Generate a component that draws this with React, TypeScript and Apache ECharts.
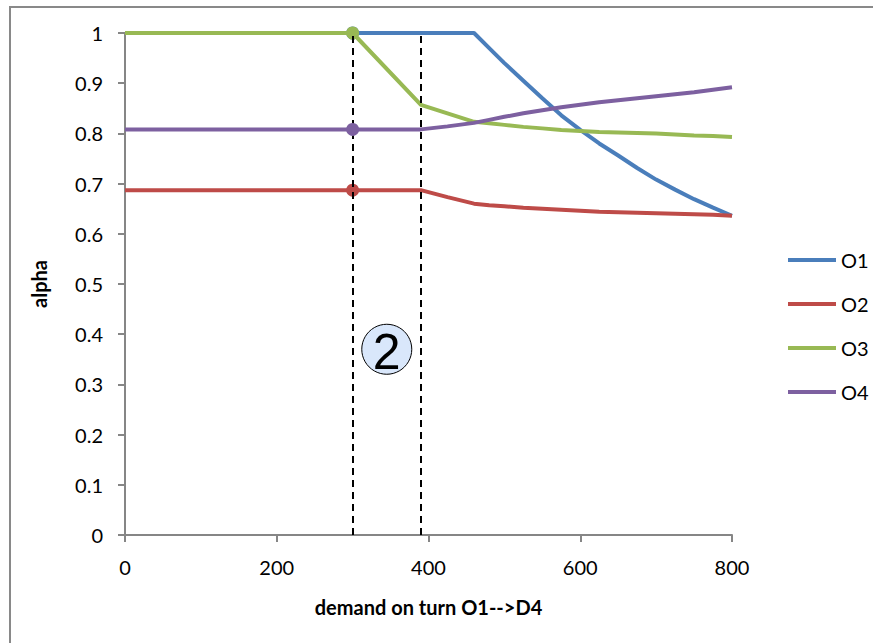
import React, { useEffect, useRef } from "react";
import * as echarts from "echarts";

const xValues = [0, 300, 390, 425, 460, 480, 500, 525, 550, 575, 600, 625, 650, 675, 700, 725, 750, 775, 800];
const o1 = [1, 1, 1, 1, 1, 0.97, 0.94, 0.905, 0.87, 0.836, 0.807, 0.78, 0.756, 0.731, 0.708, 0.688, 0.669, 0.652, 0.636];
const o2 = [0.687, 0.687, 0.687, 0.673, 0.66, 0.657, 0.655, 0.652, 0.65, 0.648, 0.646, 0.644, 0.643, 0.642, 0.641, 0.64, 0.639, 0.638, 0.636];
const o3 = [1, 1, 0.857, 0.84, 0.823, 0.82, 0.817, 0.813, 0.81, 0.807, 0.805, 0.803, 0.802, 0.801, 0.8, 0.798, 0.796, 0.795, 0.793];
const o4 = [0.808, 0.808, 0.808, 0.814, 0.821, 0.827, 0.833, 0.84, 0.846, 0.852, 0.857, 0.862, 0.866, 0.87, 0.874, 0.878, 0.882, 0.887, 0.892];
const seriesNames = ["O1", "O2", "O3", "O4"];
const seriesColors = ["#4a7ebb", "#be4b48", "#98b954", "#7d60a0"];
const markedX = 300;
const dashedX = [300, 390];
const regionLabel = "2";
const regionPos = [345, 0.37];

const FONT = "Lato, 'Liberation Sans', sans-serif";

export default function App() {
  const ref = useRef<HTMLDivElement>(null);
  useEffect(() => {
    if (!ref.current) return;
    const chart = echarts.init(ref.current, undefined, { renderer: "svg" });
    const all = [o1, o2, o3, o4];
    const series: any[] = all.map((vals, i) => ({
      name: seriesNames[i],
      type: "line",
      symbol: "none",
      lineStyle: { width: 4, color: seriesColors[i] },
      itemStyle: { color: seriesColors[i] },
      data: xValues.map((x, j) =>
        x === markedX
          ? { value: [x, vals[j]], symbol: "circle", symbolSize: 13 }
          : [x, vals[j]]
      ),
      z: 2 + i,
    }));
    series[0].markLine = {
      silent: true,
      symbol: "none",
      label: { show: false },
      lineStyle: { color: "#000", type: [7, 5], width: 2 },
      data: dashedX.map((x) => ({ xAxis: x })),
    };
    series[0].markPoint = {
      silent: true,
      symbol: "circle",
      symbolSize: 50,
      itemStyle: { color: "#d9e7fb", borderColor: "#000", borderWidth: 1 },
      label: {
        show: true,
        formatter: regionLabel,
        color: "#000",
        fontSize: 50,
        fontFamily: "'Liberation Sans', sans-serif",
        offset: [0, 3],
      },
      data: [{ coord: regionPos }],
    };
    chart.setOption({
      animation: false,
      backgroundColor: "#fff",
      textStyle: { fontFamily: FONT },
      graphic: [
        {
          type: "rect",
          shape: { x: 10, y: 7, width: 900, height: 700 },
          style: { fill: "none", stroke: "#898989", lineWidth: 2 },
          silent: true,
        },
      ],
      legend: {
        orient: "vertical",
        left: 783,
        top: 245,
        itemWidth: 48,
        itemHeight: 14,
        itemGap: 24,
        icon: "path://M0,0 L48,0 L48,4 L0,4 Z",
        textStyle: { fontSize: 20, color: "#000", fontFamily: FONT },
        data: seriesNames,
      },
      grid: { left: 125, right: 141, top: 33, bottom: 108 },
      xAxis: {
        type: "value",
        min: 0,
        max: 800,
        interval: 200,
        name: "demand on turn O1-->D4",
        nameLocation: "middle",
        nameGap: 62,
        nameTextStyle: { fontSize: 20, fontWeight: "bold", color: "#000", fontFamily: FONT },
        axisLine: { lineStyle: { color: "#868686", width: 2 } },
        axisTick: { show: true, length: 7, lineStyle: { color: "#868686", width: 2 } },
        axisLabel: { fontSize: 20, color: "#000", margin: 22, fontFamily: FONT },
        splitLine: { show: false },
      },
      yAxis: {
        type: "value",
        min: 0,
        max: 1,
        interval: 0.1,
        name: "alpha",
        nameLocation: "middle",
        nameGap: 76,
        nameRotate: 90,
        nameTextStyle: { fontSize: 20, fontWeight: "bold", color: "#000", fontFamily: FONT },
        axisLine: { show: true, lineStyle: { color: "#868686", width: 2 } },
        axisTick: { show: true, length: 7, lineStyle: { color: "#868686", width: 2 } },
        axisLabel: { fontSize: 20, color: "#000", margin: 22, fontFamily: FONT },
        splitLine: { show: false },
      },
      series,
    });
    return () => chart.dispose();
  }, []);
  return (
    <div
      ref={ref}
      style={{ position: "fixed", left: 0, top: 0, width: 873, height: 643, background: "#fff" }}
    />
  );
}
